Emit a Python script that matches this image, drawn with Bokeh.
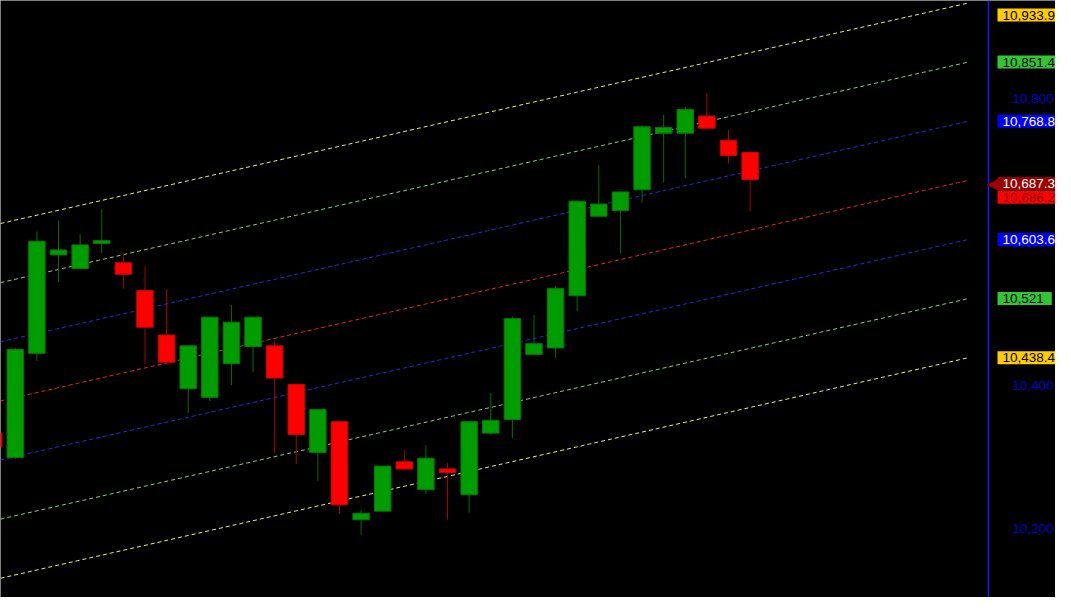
from bokeh.plotting import figure
from bokeh.models import ColumnDataSource, Range1d, Label, Span
from bokeh.embed import file_html
from bokeh.resources import INLINE

# ---- data ----
bar_index = list(range(-1, 35))
opens = [10333, 10299, 10444.5, 10582, 10563, 10598, 10571, 10532, 10470, 10395,
         10383, 10430, 10454, 10455, 10401, 10306, 10349, 10212, 10224, 10293,
         10254, 10283, 10247, 10333, 10352, 10443, 10452, 10525, 10636, 10644,
         10673, 10752, 10752, 10776, 10742, 10725]
highs = [10340, 10452, 10614.6, 10630, 10611, 10646, 10584, 10566, 10534, 10455,
         10496, 10512, 10496, 10461, 10403, 10366, 10350, 10226, 10287, 10310,
         10316, 10291, 10350, 10389, 10496, 10498, 10538, 10658, 10707, 10671,
         10763, 10778, 10789, 10808, 10757, 10727]
lows = [10305, 10297, 10434, 10544, 10563, 10584, 10535, 10430, 10432, 10361,
        10378, 10400, 10418, 10305, 10290, 10266, 10221, 10191, 10224, 10283,
        10248, 10212, 10222, 10331, 10326, 10442, 10438, 10503, 10636, 10584,
        10655, 10683, 10689, 10759, 10710, 10643]
closes = [10314, 10450, 10601, 10589, 10596, 10602, 10555, 10481, 10432, 10455,
          10495, 10488, 10495, 10410, 10331, 10366, 10233, 10221, 10287, 10283,
          10298, 10278, 10349, 10351, 10493, 10458, 10535, 10657, 10653, 10670,
          10761, 10760, 10785, 10759, 10721, 10687.3]

# regression channel: start / end bar and level values at both ends
channel_x = [-1, 44.1]
channel_up3 = [10623.7, 10933.9]
channel_up2 = [10541.1, 10851.4]
channel_up1 = [10458.5, 10768.8]
channel_mid = [10375.9, 10686.2]
channel_dn1 = [10293.3, 10603.6]
channel_dn2 = [10210.7, 10521.0]
channel_dn3 = [10128.1, 10438.4]

axis_ticks = [10200, 10400, 10600, 10800]
last_price = 10687.3

# ---- figure ----
W, H = 1055, 597
X0, X1 = -0.684, 48.13
p = figure(width=W, height=H, output_backend="svg", toolbar_location=None,
           x_range=Range1d(X0, X1), y_range=Range1d(10103.4, 10937.4),
           x_axis_location=None, y_axis_location=None,
           background_fill_color="#000000", border_fill_color="#000000",
           min_border=0)
p.outline_line_color = None
p.grid.visible = False

# price-scale separator (at 988 px of the 1055 px frame)
axis_px = 988
axis_x = X0 + axis_px / W * (X1 - X0)
p.add_layout(Span(location=axis_x, dimension="height", line_color="#1a1aff", line_width=1.5))

# channel lines
dash = "4 3"
for vals, col in [(channel_up3, "#eeee80"), (channel_up2, "#8cc88c"), (channel_up1, "#2a2ad8"),
                  (channel_mid, "#e02828"),
                  (channel_dn1, "#2a2ad8"), (channel_dn2, "#8cc88c"), (channel_dn3, "#eeee80")]:
    p.line(channel_x, vals, line_color=col, line_width=1, line_dash=dash)

# candles
up = [c >= o for o, c in zip(opens, closes)]
src = ColumnDataSource(dict(
    x=bar_index, high=highs, low=lows,
    top=[max(o, c) for o, c in zip(opens, closes)],
    bottom=[min(o, c) for o, c in zip(opens, closes)],
    body=["#009c00" if u else "#ff0000" for u in up],
    edge=["#007a00" if u else "#d00000" for u in up],
    wick=["#0a6a0a" if u else "#a80000" for u in up],
))
p.segment(x0="x", y0="high", x1="x", y1="low", line_color="wick", line_width=1, source=src)
p.vbar(x="x", top="top", bottom="bottom", width=0.76, fill_color="body",
       line_color="edge", line_width=1, source=src)

# price scale tick labels
FONT = "Liberation Sans"
FS = "13.5px"
for t in axis_ticks:
    p.add_layout(Label(x=axis_px + 24, x_units="screen", y=t, y_units="data",
                       text=f"{t:,}", text_color="#0000c8", text_font=FONT,
                       text_font_size=FS, text_baseline="middle", text_align="left"))

# price labels on the right
def fmt(v):
    s = f"{v:,.1f}"
    return s[:-2] if s.endswith(".0") else s

box_x = axis_px + 9
labels = [
    (channel_up3[1], "#ffcc00", "#000000", -12),
    (channel_up2[1], "#33c633", "#000000", 0),
    (channel_up1[1], "#0000ff", "#ffffff", 0),
    (channel_mid[1], "#ff0000", "#8a0000", -17),
    (channel_dn1[1], "#0000ff", "#ffffff", 0),
    (channel_dn2[1], "#33c633", "#000000", 0),
    (channel_dn3[1], "#ffcc00", "#000000", 0),
]
pad = dict(left=5, right=8, top=2, bottom=2)
for v, bg, fg, off in labels:
    p.add_layout(Label(x=box_x, x_units="screen", y=v, y_units="data", y_offset=off,
                       text=fmt(v), text_color=fg, text_font=FONT,
                       text_font_size=FS, text_baseline="middle", text_align="left",
                       background_fill_color=bg, padding=pad))

p.add_layout(Label(x=box_x, x_units="screen", y=last_price, y_units="data", y_offset=-4,
                   text=fmt(last_price), text_color="#ffffff", text_font=FONT,
                   text_font_size=FS, text_baseline="middle", text_align="left",
                   background_fill_color="#9a0000", padding=pad))
p.add_layout(Label(x=box_x + 1, x_units="screen", y=last_price, y_units="data", y_offset=-4,
                   text="\u25c0", text_color="#9a0000", text_font="DejaVu Sans",
                   text_font_size="16px", text_baseline="middle", text_align="right"))

html = file_html(p, INLINE)
html = html.replace("<body>", '<body style="background-color:#000000;">', 1)
open("out.html", "w").write(html)
